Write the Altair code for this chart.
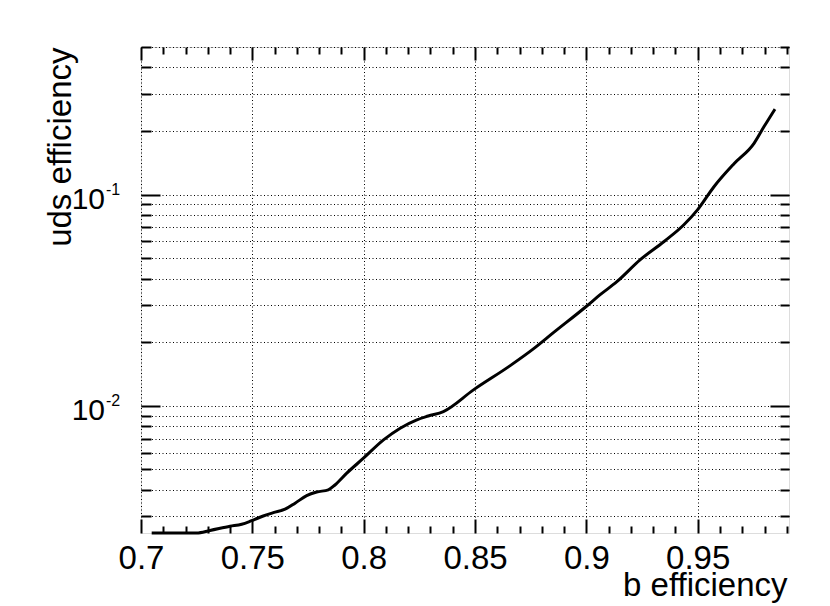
import altair as alt
import pandas as pd

# ---- data ----
b_eff = [0.7048, 0.725, 0.731, 0.740, 0.7452, 0.7497, 0.7549, 0.7594, 0.7647, 0.7692,
         0.7744, 0.7789, 0.7841, 0.7871, 0.7924, 0.7999, 0.8089, 0.8164, 0.8239, 0.829,
         0.8358, 0.8493, 0.8658, 0.8762, 0.8852, 0.9002, 0.9062, 0.9137, 0.9241, 0.9349,
         0.9438, 0.9499, 0.9573, 0.9663, 0.9753, 0.9798, 0.9847]
uds_eff = [0.0025, 0.0025, 0.00257, 0.00269, 0.00275, 0.00286, 0.00301, 0.00312, 0.00324, 0.00346,
           0.00376, 0.00391, 0.00400, 0.00422, 0.00480, 0.00565, 0.00690, 0.00784, 0.00859, 0.00895,
           0.0094, 0.0119, 0.0155, 0.0186, 0.0222, 0.0297, 0.0336, 0.0387, 0.0491, 0.060,
           0.0720, 0.0847, 0.109, 0.140, 0.175, 0.210, 0.254]

x_major = [0.7, 0.75, 0.8, 0.85, 0.9, 0.95]
x_minor = [0.71, 0.72, 0.73, 0.74, 0.76, 0.77, 0.78, 0.79, 0.81, 0.82, 0.83, 0.84,
           0.86, 0.87, 0.88, 0.89, 0.91, 0.92, 0.93, 0.94, 0.96, 0.97, 0.98, 0.99]
y_major = [0.01, 0.1]
y_minor = [0.003, 0.004, 0.005, 0.006, 0.007, 0.008, 0.009,
           0.02, 0.03, 0.04, 0.05, 0.06, 0.07, 0.08, 0.09,
           0.2, 0.3, 0.4, 0.5]
y_label_base = ["10", "10"]
y_label_exp = ["-2", "-1"]

x_title = "b efficiency"
y_title = "uds efficiency"

FONT = "Liberation Sans"
W, H = 648, 486

df = pd.DataFrame({"b": b_eff, "uds": uds_eff})
lab_df = pd.DataFrame({"v": y_major, "base": y_label_base, "exp": y_label_exp})

xs = alt.Scale(domain=[0.7, 0.991], nice=False, zero=False)
ys = alt.Scale(type="log", domain=[0.0025, 0.5], nice=False)

base = alt.Chart(df)

main = base.mark_line(color="black", strokeWidth=3, interpolate="monotone").encode(
    x=alt.X("b:Q", scale=xs, axis=alt.Axis(
        values=x_major, grid=True, gridDash=[1, 2.5], gridColor="black", gridWidth=1,
        ticks=False, domain=False, labelExpr="format(datum.value, '.2~f')",
        labelFlush=False, labelOverlap=False,
        labelPadding=9, labelFontSize=33, labelFont=FONT, labelColor="black",
        title=x_title, titleFont=FONT, titleFontSize=33, titleFontWeight="normal",
        titleColor="black", titleAnchor="end", titleAlign="right",
        titleX=646, titleY=62, titleBaseline="alphabetic")),
    y=alt.Y("uds:Q", scale=ys, axis=alt.Axis(
        values=y_minor + y_major, grid=True, gridDash=[1, 2.5], gridColor="black", gridWidth=1,
        ticks=False, domain=False, labels=False,
        title=y_title, titleFont=FONT, titleFontSize=33, titleFontWeight="normal",
        titleColor="black", titleAngle=270, titleAnchor="end", titleAlign="right",
        titleX=-71, titleY=0, titleBaseline="alphabetic")),
)


def tick_layer(xv, xlen, xorient, xoff, yv, ylen, yorient, yoff):
    return base.mark_point(opacity=0).encode(
        x=alt.X("b:Q", scale=xs, axis=alt.Axis(
            orient=xorient, offset=xoff, values=xv, tickSize=xlen, tickWidth=2,
            tickColor="black", labels=False, domain=False, grid=False, title="")),
        y=alt.Y("uds:Q", scale=ys, axis=alt.Axis(
            orient=yorient, offset=yoff, values=yv, tickSize=ylen, tickWidth=2,
            tickColor="black", labels=False, domain=False, grid=False, title="")),
    )


t1 = tick_layer(x_major, 14, "top", -H, y_major, 19, "right", -W)
t2 = tick_layer(x_minor, 7, "top", -H, y_minor, 10, "right", -W)
t3 = tick_layer(x_major, 13, "bottom", -H, y_major, 19, "left", -W)
t4 = tick_layer(x_minor, 7, "bottom", -H, y_minor, 9, "left", -W)

tens = alt.Chart(lab_df).mark_text(
    align="right", baseline="alphabetic", fontSize=30, font=FONT, color="black", dy=14.5
).encode(
    x=alt.value(-36),
    y=alt.Y("v:Q", scale=ys, axis=None),
    text="base:N",
)
exps = alt.Chart(lab_df).mark_text(
    align="left", baseline="alphabetic", fontSize=16, font=FONT, color="black", dy=0.5
).encode(
    x=alt.value(-35),
    y=alt.Y("v:Q", scale=ys, axis=None),
    text="exp:N",
)

chart = alt.layer(main, t1, t2, t3, t4, tens, exps).resolve_axis(
    x="independent", y="independent"
).properties(
    width=W, height=H,
    autosize=alt.AutoSizeParams(type="none"),
    padding={"left": 133, "top": 39, "right": 20, "bottom": 75},
).configure_view(
    stroke="black", strokeWidth=2
).configure(background="white")

chart.save("out.html", embed_options={"renderer": "svg", "actions": False})
